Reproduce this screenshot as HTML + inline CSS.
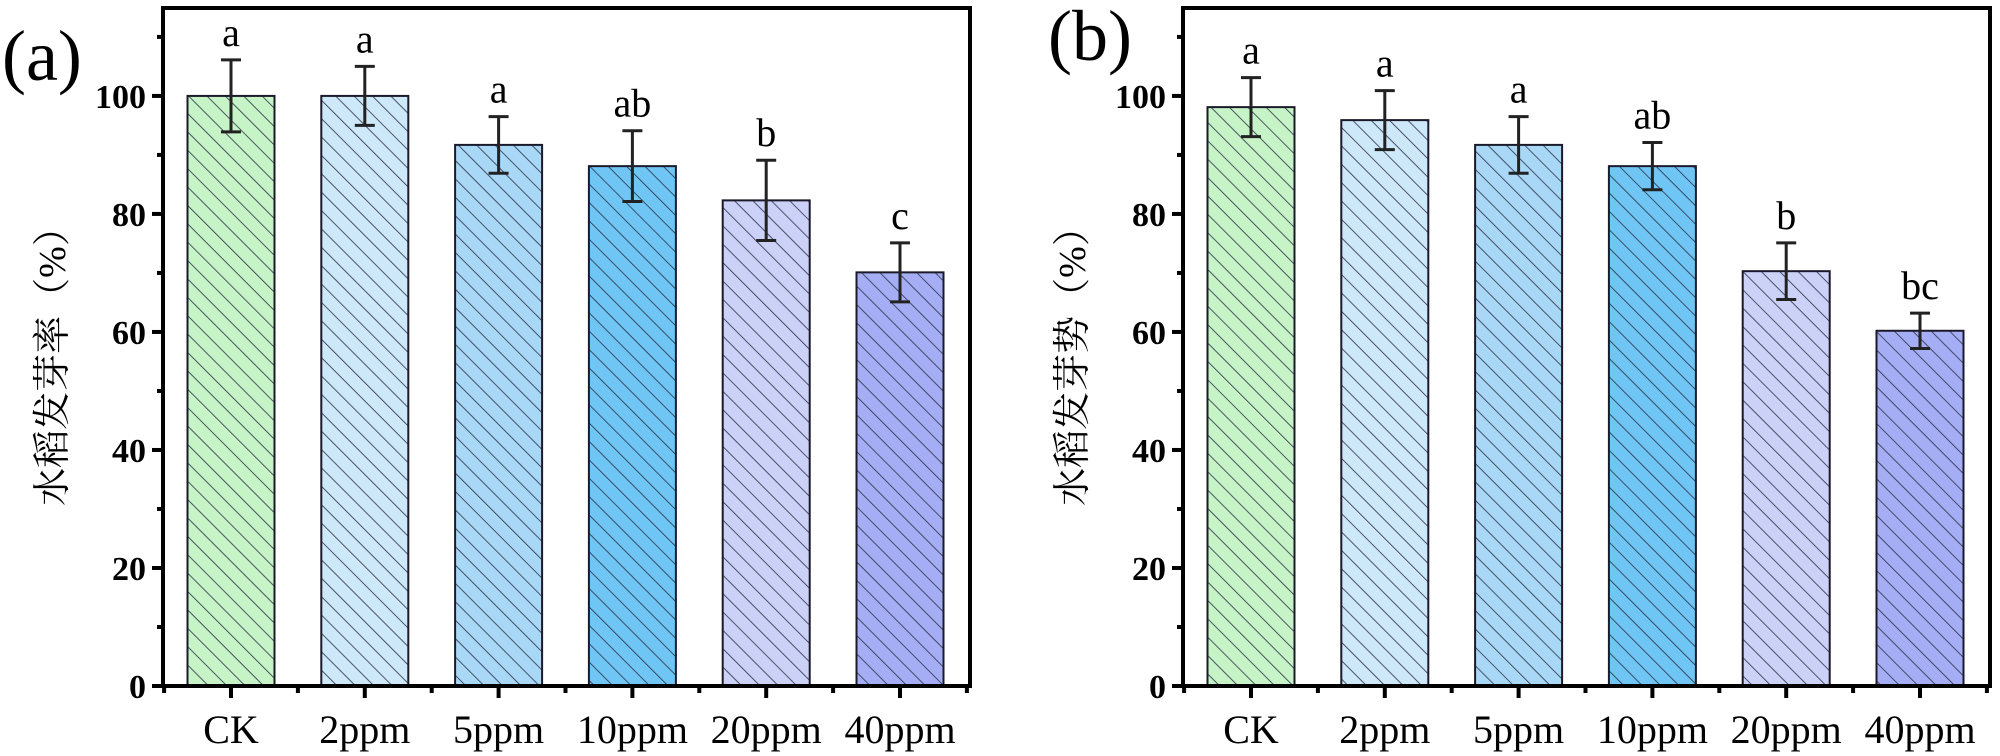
<!DOCTYPE html>
<html><head><meta charset="utf-8"><style>
html,body{margin:0;padding:0;background:#fff;width:2000px;height:756px;overflow:hidden}
svg{display:block}
</style></head><body>
<svg id="chart" width="2000" height="756" xmlns="http://www.w3.org/2000/svg">
<defs>
<pattern id="hatch" patternUnits="userSpaceOnUse" width="13" height="13" patternTransform="rotate(-45)">
<line x1="0" y1="0" x2="0" y2="13" stroke="#2a2f45" stroke-width="1.6"/>
</pattern>
</defs>
</svg>
<script>
const categories = ["CK","2ppm","5ppm","10ppm","20ppm","40ppm"];
const valuesA = [100, 100, 91.7, 88.1, 82.3, 70.1];
const errorsA = [6.1, 5.0, 4.8, 6.0, 6.8, 5.0];
const lettersA = ["a","a","a","ab","b","c"];
const valuesB = [98.1, 95.9, 91.7, 88.1, 70.3, 60.2];
const errorsB = [5.0, 5.0, 4.8, 4.0, 4.8, 3.0];
const lettersB = ["a","a","a","ab","b","bc"];
const yTicks = [0, 20, 40, 60, 80, 100];
const colors = ["#c6f4c6","#cde8f9","#a8d8f6","#6fc5f4","#ccd1f8","#a5aef5"];

const svg = document.getElementById('chart');
const NS = 'http://www.w3.org/2000/svg';
function mk(tag, attrs, parent){const e=document.createElementNS(NS,tag);for(const k in attrs)e.setAttribute(k,attrs[k]);(parent||svg).appendChild(e);return e;}

function panel(ox, vals, errs, letters, label, title, key){
  const left=163+ox, right=970+ox, top=8, bottom=686;
  const yMax=114.9;
  const y = v => bottom - v/yMax*(bottom-top);
  const cx0 = 231+ox, step = 133.8, bw = 87;
  const x = i => cx0 + i*step;
  const g = mk('g',{});
  
  
  vals.forEach((v,i)=>{
    const r = mk('rect',{x:x(i)-bw/2,y:y(v),width:bw,height:bottom-y(v),fill:colors[i]},g);
    
    
    mk('rect',{x:x(i)-bw/2,y:y(v),width:bw,height:bottom-y(v),fill:'url(#hatch)',stroke:'#1a1a2a','stroke-width':2},g);
    const e = mk('path',{d:`M${x(i)},${y(v+errs[i])}V${y(v-errs[i])}M${x(i)-10},${y(v+errs[i])}H${x(i)+10}M${x(i)-10},${y(v-errs[i])}H${x(i)+10}`,stroke:'#222',"stroke-width":3,fill:'none'},g);
    
    
    const t = mk('text',{x:x(i),y:y(v+errs[i])-14,'text-anchor':'middle','font-family':'Liberation Serif, serif','font-size':40},g);
    t.textContent = letters[i];
    
    
    const xl = mk('text',{x:x(i),y:743,'text-anchor':'middle','font-family':'Liberation Serif, serif','font-size':40},g);
    xl.textContent = categories[i];
    
    
    mk('line',{x1:x(i),x2:x(i),y1:bottom,y2:bottom+12,stroke:'#000','stroke-width':4},g);
    mk('line',{x1:x(i)-step/2,x2:x(i)-step/2,y1:bottom,y2:bottom+7,stroke:'#000','stroke-width':4},g);
  });
  mk('line',{x1:x(vals.length)-step/2,x2:x(vals.length)-step/2,y1:bottom,y2:bottom+7,stroke:'#000','stroke-width':4},g);
  yTicks.forEach(t=>{
    mk('line',{x1:left-11,x2:left,y1:y(t),y2:y(t),stroke:'#000','stroke-width':4},g);
    mk('line',{x1:left-6,x2:left,y1:y(t+10),y2:y(t+10),stroke:'#000','stroke-width':4},g);
    const tl = mk('text',{x:left-17,y:y(t)+12,'text-anchor':'end','font-family':'Liberation Serif, serif','font-weight':'bold','font-size':34},g);
    tl.textContent = t;
    
    
  });
  const fr = mk('rect',{x:left,y:top,width:right-left,height:bottom-top,fill:'none',stroke:'#000','stroke-width':4},g);
  
  
  const pl = mk('text',{x:ox+(key==='a'?2:28),y:(key==='a'?80:60),'font-family':'Liberation Serif, serif','font-size':72},g);
  pl.textContent = label;
  
  
  const yt = mk('text',{x:0,y:0,transform:`translate(${ox+65},357) rotate(-90)`,'text-anchor':'middle','font-family':'Liberation Serif, Noto Serif CJK SC, serif','font-size':38},g);
  yt.textContent = title;
  
  
}
panel(0, valuesA, errorsA, lettersA, '(a)', '水稻发芽率（%）', 'a');
panel(1020, valuesB, errorsB, lettersB, '(b)', '水稻发芽势（%）', 'b');
</script>
</body></html>
